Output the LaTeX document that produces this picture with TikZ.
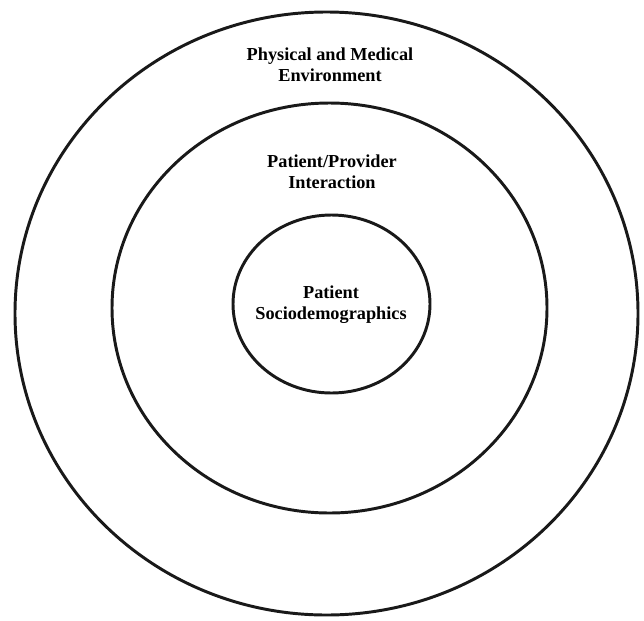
\documentclass[tikz,border=0pt]{standalone}
\usepackage{fontspec}
\setmainfont{Liberation Serif}
\tikzset{
  ring/.style={line width=4.2pt, draw=black!90},
  lbl/.style={align=center, font=\fontsize{26}{30}\selectfont\bfseries, inner sep=0pt}
}
\begin{document}
\begin{tikzpicture}[x=0.05cm, y=-0.05cm]
  \useasboundingbox (0,0) rectangle (644,620);
  % rings
  \draw[ring] (326.5,313.5) ellipse [x radius=311.5, y radius=301.5];
  \draw[ring] (329.5,308) ellipse [x radius=217.5, y radius=205];
  \draw[ring] (331.5,304) ellipse [x radius=98.5, y radius=89];
  % labels
  \node[lbl] (env) at (330,64.5) {Physical and Medical\\Environment};
  \node[lbl] (inter) at (332,171.5) {Patient/Provider\\Interaction};
  \node[lbl] (socio) at (331,304.5) {Patient\\Sociodemographics};
\end{tikzpicture}
\end{document}
